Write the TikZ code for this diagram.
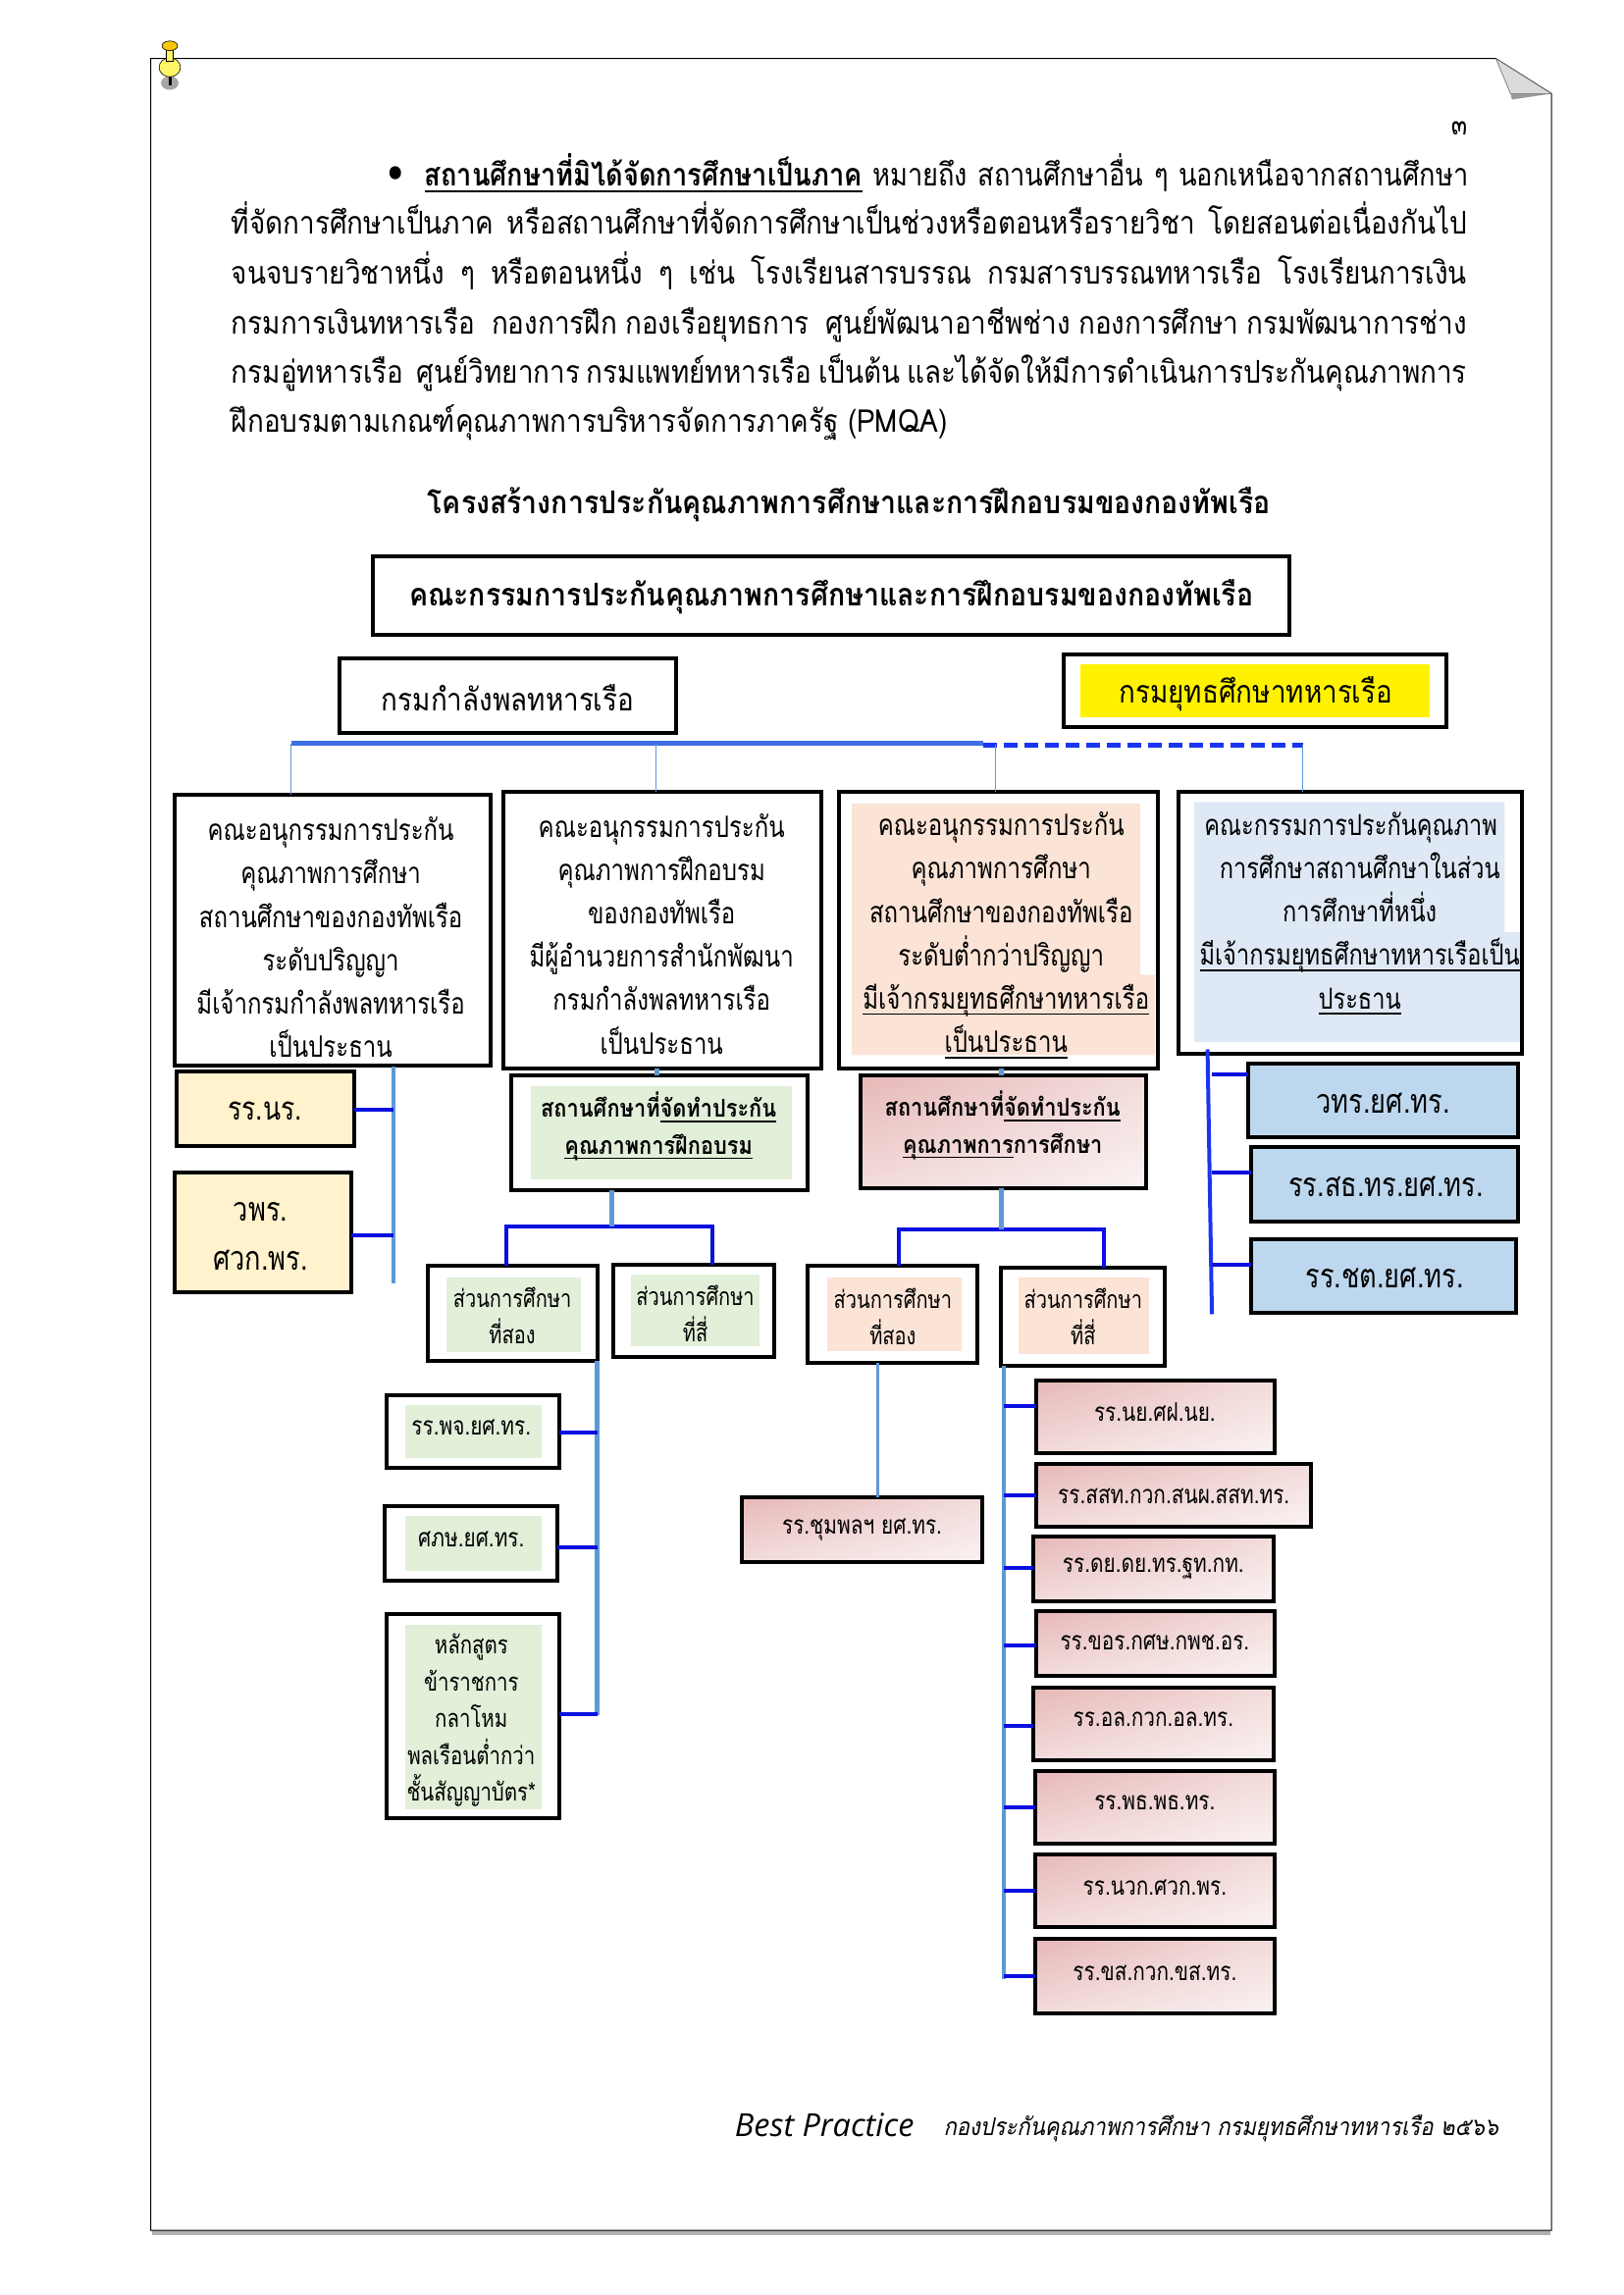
\documentclass[tikz,border=0pt]{standalone}
\usepackage{fontspec}
\setmainfont[Script=Thai]{Loma}
\newfontfamily\thai[Script=Thai,FakeStretch=0.80]{Loma}
\newfontfamily\thaip[Script=Thai,FakeStretch=0.87]{Loma}
\newfontfamily\thaiq[Script=Thai,FakeStretch=0.85]{Loma}
\newfontfamily\thait[Script=Thai,FakeStretch=0.89]{Loma}
\newfontfamily\thaislant[Script=Thai,FakeStretch=0.88,FakeSlant=0.2]{Loma}
\newfontfamily\latinslant{Open Sans}
\newcommand\sz[2]{\fontsize{#1pt}{#2pt}\selectfont}
\newcommand\ulx[1]{\setbox0\hbox{#1}\leavevmode\rlap{\raisebox{-.2em}{\rule{\wd0}{.06em}}}\box0\relax}
\usetikzlibrary{calc,shadings}
\definecolor{trunkc}{HTML}{5F99D5}
\definecolor{linkc}{HTML}{0A10E0}
\definecolor{busc}{HTML}{3D6FE6}
\definecolor{dashc}{HTML}{1A35F0}
\definecolor{peach}{HTML}{FBE3D6}
\definecolor{mint}{HTML}{E2EFD9}
\definecolor{sky}{HTML}{DFE9F5}
\definecolor{cream}{HTML}{FFF2CC}
\definecolor{steel}{HTML}{BDD7EE}
\definecolor{rosea}{HTML}{E6B8B7}
\definecolor{roseb}{HTML}{F2DCDB}
\definecolor{rosec}{HTML}{FAF2F2}
\tikzset{
  box/.style={draw=black,line width=4pt,inner sep=0pt,outer sep=0pt},
  rose/.style={shading=bilinear interpolation,upper left=rosea,upper right=roseb,lower left=roseb,lower right=rosec},
  lbl/.style={inner sep=0pt,align=center,font=\thai\sz{30}{44.2}},
  lblb/.style={inner sep=0pt,align=center,font=\thai\sz{34}{44}},
  lblm/.style={inner sep=0pt,align=center,font=\thai\sz{25}{37.5}},
  lbls/.style={inner sep=0pt,align=center,font=\thai\sz{26}{37.5}},
  lblh/.style={inner sep=0pt,align=center,font=\thaip\bfseries\sz{25}{37.5}},
  lblt/.style={inner sep=0pt,align=center,font=\thaip\sz{32}{44}},
  trunk/.style={draw=trunkc,line width=4.5pt},
  link/.style={draw=linkc,line width=4pt},
  drop/.style={draw=trunkc,line width=1.2pt},
  para/.style={inner sep=0pt,anchor=base west,font=\thaip\sz{32}{50}},
}
% name, x1,y1,x2,y2, box style, text style, text position, text
\newcommand\bx[9]{%
  \pgfmathsetmacro\bw{(#4-#2)*1.4916}\pgfmathsetmacro\bh{(#5-#3)*1.4916}%
  \pgfmathsetmacro\bcx{(#2+#4)/2}\pgfmathsetmacro\bcy{(#3+#5)/2}%
  \node[box,#6,minimum width=\bw pt,minimum height=\bh pt] (#1) at (\bcx,\bcy) {};
  \node[#7] (#1t) at (#8) {#9};
}
\begin{document}
\begin{tikzpicture}[x=1.4916pt,y=-1.4916pt]
\useasboundingbox (0,0) rectangle (1108.88,1568.12);
% sheet
\fill[black!30] (104,1524) rectangle (1059,1527);
\draw[black,line width=1pt] (1022,40) -- (103,40) -- (103,1524) -- (1060,1524) -- (1060,64) -- cycle;
\fill[black!14,draw=black!60,line width=.6pt] (1022,40) -- (1060,64) -- (1032,64) -- cycle;
\fill[black!40] (1032,64) -- (1060,64) -- (1033,68) -- cycle;
% pin
\fill[black!35] (116,56.7) ellipse (6 and 4.7);
\fill[black] (115,50) rectangle (117,58);
\fill[yellow!60,draw=black,line width=.6pt] (116,46) ellipse (7.3 and 6.5);
\fill[yellow!60,draw=black,line width=.6pt] (113.7,32) rectangle (118.3,42);
\fill[yellow!60!orange,draw=black,line width=.6pt] (116,31.3) ellipse (5.3 and 3.3);
% paragraph
\fill[black] (270,118) ellipse (4 and 4.5);
\node[inner sep=0pt,font=\thai\sz{30}{30}] (pg) at (997,88) {๓};
\node[para,font=\thaiq\sz{32}{50}] (l1) at (290,127) {\makebox[1063.5pt][s]{\ulx{\bfseries สถานศึกษาที่มิได้จัดการศึกษาเป็นภาค} หมายถึง สถานศึกษาอื่น ๆ นอกเหนือจากสถานศึกษา}};
\node[para] (l2) at (158,160) {\makebox[1259pt][s]{ที่จัดการศึกษาเป็นภาค หรือสถานศึกษาที่จัดการศึกษาเป็นช่วงหรือตอนหรือรายวิชา โดยสอนต่อเนื่องกันไป}};
\node[para] (l3) at (158,194) {\makebox[1259pt][s]{จนจบรายวิชาหนึ่ง ๆ หรือตอนหนึ่ง ๆ เช่น โรงเรียนสารบรรณ กรมสารบรรณทหารเรือ โรงเรียนการเงิน}};
\node[para] (l4) at (158,228) {\makebox[1259pt][s]{กรมการเงินทหารเรือ \ กองการฝึก กองเรือยุทธการ \ ศูนย์พัฒนาอาชีพช่าง กองการศึกษา กรมพัฒนาการช่าง}};
\node[para] (l5) at (158,262) {\makebox[1259pt][s]{กรมอู่ทหารเรือ \ ศูนย์วิทยาการ กรมแพทย์ทหารเรือ เป็นต้น และได้จัดให้มีการดำเนินการประกันคุณภาพการ}};
\node[para] (l6) at (158,295) {ฝึกอบรมตามเกณฑ์คุณภาพการบริหารจัดการภาครัฐ (PMQA)};
\node[para,anchor=center,font=\thait\bfseries\sz{32}{50}] (title) at (580,345) {โครงสร้างการประกันคุณภาพการศึกษาและการฝึกอบรมของกองทัพเรือ};
% top boxes
\bx{main}{255}{380}{881}{434}{}{lbl,font=\thait\bfseries\sz{32}{44}}{568,408}{คณะกรรมการประกันคุณภาพการศึกษาและการฝึกอบรมของกองทัพเรือ}
\bx{nt}{232}{450}{462}{501}{}{lblt}{347,477}{กรมกำลังพลทหารเรือ}
\fill[yellow] (738,454) rectangle (977,490);
\bx{ye}{727}{447}{988}{497}{}{lblt}{858,474}{กรมยุทธศึกษาทหารเรือ}
% bus
\coordinate (busL) at (199,508); \coordinate (t2) at (448,508); \coordinate (busM) at (672,508);
\coordinate (t3) at (680,509); \coordinate (busR) at (890,509);
\draw[draw=busc,line width=4.5pt] (busL) -- (busM);
\draw[draw=dashc,line width=5pt,dash pattern=on 14pt off 7pt] (busM |- busR) -- (busR);
% committee boxes
\bx{c1}{119}{543}{335}{728}{}{lbl}{226,640.5}{คณะอนุกรรมการประกัน\\คุณภาพการศึกษา\\สถานศึกษาของกองทัพเรือ\\ระดับปริญญา\\มีเจ้ากรมกำลังพลทหารเรือ\\เป็นประธาน}
\bx{c2}{344}{541}{561}{730}{}{lbl}{452,638}{คณะอนุกรรมการประกัน\\คุณภาพการฝึกอบรม\\ของกองทัพเรือ\\มีผู้อำนวยการสำนักพัฒนา\\กรมกำลังพลทหารเรือ\\เป็นประธาน}
\fill[peach] (582,549) -- (779,549) -- (779,666) -- (789,666) -- (789,721) -- (582,721) -- cycle;
\bx{c3}{573}{541}{791}{730}{}{lbl}{684,639}{คณะอนุกรรมการประกัน\\คุณภาพการศึกษา\\สถานศึกษาของกองทัพเรือ\\ระดับต่ำกว่าปริญญา\\\hspace*{10pt}\ulx{มีเจ้ากรมยุทธศึกษาทหารเรือ}\\\hspace*{10pt}\ulx{เป็นประธาน}}
\fill[sky] (816,548) -- (1028,548) -- (1028,637) -- (1039,637) -- (1039,712) -- (816,712) -- cycle;
\bx{c4}{805}{541}{1040}{720}{}{lbl,font=\thai\sz{29.5}{44.2}}{929,624}{คณะกรรมการประกันคุณภาพ\hspace*{18pt}\\การศึกษาสถานศึกษาในส่วน\hspace*{18pt}\\การศึกษาที่หนึ่ง\\\ulx{มีเจ้ากรมยุทธศึกษาทหารเรือเป็น}\\\ulx{ประธาน}}
\draw[drop] (busL) -- (busL |- c1.north);
\draw[drop] (t2) -- (t2 |- c2.north);
\draw[drop] (t3) -- (t3 |- c3.north);
\draw[drop] (busR) -- (busR |- c4.north);
% group 1
\bx{a1}{121}{732}{242}{783}{fill=cream}{lblb,font=\thai\sz{33}{44}}{181,759}{รร.นร.}
\bx{a2}{119}{801}{240}{883}{fill=cream}{lblb,font=\thai\sz{34}{50}}{178,844.5}{วพร.\\ศวก.พร.}
\coordinate (sp1a) at (269,729); \coordinate (sp1b) at (269,877);
\draw[trunk] (sp1a) -- (sp1b);
\draw[link] (a1.east |- 0,758) -- (sp1a |- 0,758);
\draw[link] (a2.east |- 0,844) -- (sp1a |- 0,844);
% group 2
\fill[mint] (363,742) rectangle (541,806);
\bx{b0}{349}{735}{552}{813}{}{lblh}{450,769.5}{สถานศึกษาที่\ulx{จัดทำประกัน}\\\ulx{คุณภาพการฝึกอบรม}}
\draw[trunk] (c2.south -| 449,0) -- (b0.north -| 449,0);
\coordinate (hb) at (418,838); \coordinate (hbl) at (346,838); \coordinate (hbr) at (487,838);
\fill[mint] (305,873) rectangle (397,924);
\bx{b2}{292}{865}{408}{930}{}{lblm}{350,899}{ส่วนการศึกษา\\ที่สอง}
\fill[mint] (431,871) rectangle (519,920);
\bx{b4}{419}{864}{529}{927}{}{lblm}{475,897.5}{ส่วนการศึกษา\\ที่สี่}
\draw[link] (hbl |- b2.north) -- (hbl) -- (hbr) -- (hbr |- b4.north);
\draw[trunk] (b0.south -| hb) -- (hb);
\coordinate (sp2a) at (408,930); \coordinate (sp2b) at (408,1172);
\fill[mint] (277,960) rectangle (370,996);
\bx{d1}{264}{953}{382}{1003}{}{lbls}{322,975}{รร.พจ.ยศ.ทร.}
\fill[mint] (277,1036) rectangle (370,1073);
\bx{d2}{263}{1029}{381}{1080}{}{lbls}{322,1052}{ศภษ.ยศ.ทร.}
\fill[mint] (277,1110) rectangle (370,1236);
\bx{d3}{264}{1103}{382}{1242}{}{lbls,font=\thai\sz{25.5}{37.5}}{322,1175.5}{หลักสูตร\\ข้าราชการ\\กลาโหม\\พลเรือนต่ำกว่า\\ชั้นสัญญาบัตร*}
\draw[trunk] (sp2a) -- (sp2b);
\draw[link] (d1.east |- 0,979) -- (sp2a |- 0,979);
\draw[link] (d2.east |- 0,1057) -- (sp2a |- 0,1057);
\draw[link] (d3.east |- 0,1171) -- (sp2a |- 0,1171);
% group 3
\bx{e0}{588}{735}{783}{812}{shade,rose}{lblh}{685,769}{สถานศึกษาที่\ulx{จัดทำประกัน}\\\ulx{คุณภาพการ}การศึกษา}
\draw[trunk] (c3.south -| 684,0) -- (e0.north -| 684,0);
\coordinate (he) at (684,840); \coordinate (hel) at (614,840); \coordinate (her) at (754,840);
\fill[peach] (565,873) rectangle (657,923);
\bx{e2}{552}{865}{668}{931}{}{lblm}{610,899.5}{ส่วนการศึกษา\\ที่สอง}
\fill[peach] (696,873) rectangle (785,925);
\bx{e4}{684}{866}{796}{933}{}{lblm}{740,899.5}{ส่วนการศึกษา\\ที่สี่}
\draw[link] (hel |- e2.north) -- (hel) -- (her) -- (her |- e4.north);
\draw[trunk] (e0.south -| he) -- (he);
\bx{f0}{507}{1023}{671}{1067}{shade,rose}{lbls}{589,1045}{รร.ชุมพลฯ ยศ.ทร.}
\draw[trunk,line width=3pt] (e2.south -| 600,0) -- (f0.north -| 600,0);
\coordinate (sp3a) at (686,933); \coordinate (sp3b) at (686,1352);
\draw[trunk] (sp3a) -- (sp3b);
\bx{g1}{708}{943}{871}{993}{shade,rose}{lbls}{789,965}{รร.นย.ศฝ.นย.}
\bx{g2}{708}{1000}{896}{1043}{shade,rose}{lbls}{802,1022}{รร.สสท.กวก.สนผ.สสท.ทร.}
\bx{g3}{706}{1050}{870}{1094}{shade,rose}{lbls}{788,1072}{รร.ดย.ดย.ทร.ฐท.กท.}
\bx{g4}{708}{1101}{871}{1145}{shade,rose}{lbls}{789,1122}{รร.ขอร.กศษ.กพช.อร.}
\bx{g5}{706}{1153}{870}{1203}{shade,rose}{lbls}{788,1175}{รร.อล.กวก.อล.ทร.}
\bx{g6}{707}{1210}{871}{1260}{shade,rose}{lbls}{789,1232}{รร.พธ.พธ.ทร.}
\bx{g7}{707}{1267}{871}{1317}{shade,rose}{lbls}{789,1290}{รร.นวก.ศวก.พร.}
\bx{g8}{707}{1325}{871}{1376}{shade,rose}{lbls}{789,1348}{รร.ขส.กวก.ขส.ทร.}
\draw[link] (g1.west |- 0,961) -- (sp3a |- 0,961);
\draw[link] (g2.west |- 0,1022) -- (sp3a |- 0,1022);
\draw[link] (g3.west |- 0,1071) -- (sp3a |- 0,1071);
\draw[link] (g4.west |- 0,1124) -- (sp3a |- 0,1124);
\draw[link] (g5.west |- 0,1179) -- (sp3a |- 0,1179);
\draw[link] (g6.west |- 0,1235) -- (sp3a |- 0,1235);
\draw[link] (g7.west |- 0,1292) -- (sp3a |- 0,1292);
\draw[link] (g8.west |- 0,1350) -- (sp3a |- 0,1350);
% group 4
\bx{h1}{853}{727}{1037}{777}{fill=steel}{lblb}{945,754}{วทร.ยศ.ทร.}
\bx{h2}{855}{784}{1037}{835}{fill=steel}{lblb}{947,811}{รร.สธ.ทร.ยศ.ทร.}
\bx{h3}{855}{847}{1036}{897}{fill=steel}{lblb}{946,873}{รร.ชต.ยศ.ทร.}
\coordinate (sp4a) at (825,717); \coordinate (sp4b) at (828,898);
\draw[draw=dashc,line width=4pt] (sp4a) -- (sp4b);
\draw[link] (h1.west |- 0,734) -- (sp4b |- 0,734);
\draw[link] (h2.west |- 0,801) -- (sp4b |- 0,801);
\draw[link] (h3.west |- 0,864) -- (sp4b |- 0,864);
% footer
\node[inner sep=0pt,anchor=west,font=\latinslant\itshape\sz{32.4}{36}] (f1) at (502,1452) {Best Practice};
\node[inner sep=0pt,anchor=east,font=\thaislant\sz{25}{30}] (f2) at (1024,1454) {กองประกันคุณภาพการศึกษา กรมยุทธศึกษาทหารเรือ ๒๕๖๖};
\end{tikzpicture}
\end{document}
